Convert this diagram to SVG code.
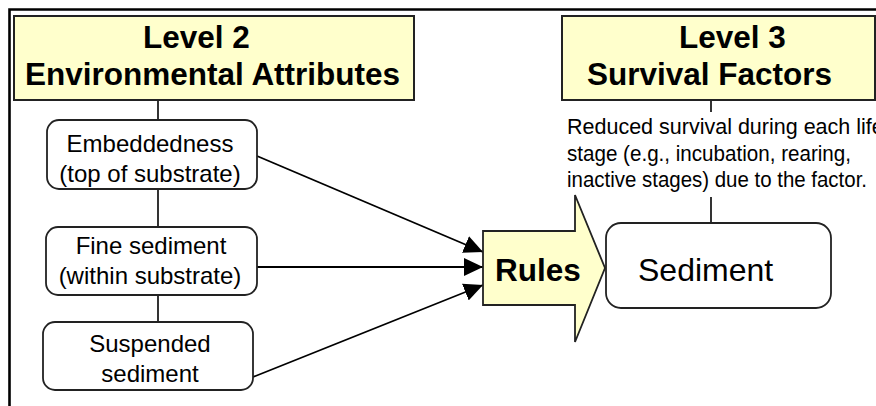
<svg xmlns="http://www.w3.org/2000/svg" width="876" height="406" viewBox="0 0 876 406">
  <style>
    .title { fill: #FFFFCC; stroke: #222; stroke-width: 2; }
    .node { fill: #FFFFFF; stroke: #222; stroke-width: 1.8; }
    .t { font-family: "Liberation Sans", Arial, sans-serif; fill: #000; }
    .hb { font-size: 31.5px; font-weight: bold; }
    .nt { font-size: 24px; text-anchor: middle; }
    .desc { font-size: 21.5px; }
    .link { stroke: #000; stroke-width: 1.6; fill: none; }
    .arrow { stroke: #000; stroke-width: 1.8; fill: none; marker-end: url(#head); }
  </style>
  <defs>
    <marker id="head" markerUnits="userSpaceOnUse" markerWidth="20" markerHeight="18" viewBox="0 0 20 18" refX="19" refY="9" orient="auto">
      <path d="M0,0 L19,9 L0,18 Z" fill="#000"/>
    </marker>
  </defs>

  <rect width="876" height="406" fill="#FFFFFF"/>

  <!-- outer frame (open to the right and bottom) -->
  <path d="M9.5,406 V9.5 H876" fill="none" stroke="#000" stroke-width="2.6"/>

  <!-- connectors -->
  <g id="connectors">
    <line class="link" x1="158" y1="100" x2="158" y2="120"/>
    <line class="link" x1="158" y1="189" x2="158" y2="227"/>
    <line class="link" x1="158" y1="295" x2="158" y2="322"/>
    <line class="link" x1="711" y1="100" x2="711" y2="112"/>
    <line class="link" x1="711" y1="197" x2="711" y2="223"/>
    <line class="arrow" x1="257" y1="156" x2="483" y2="252"/>
    <line class="arrow" x1="257" y1="267" x2="483" y2="267"/>
    <line class="arrow" x1="253" y1="377" x2="483" y2="285"/>
  </g>

  <g id="level2">
    <rect class="title" x="14" y="16" width="400" height="84"/>
    <text class="t hb" x="143" y="48">Level 2</text>
    <text class="t hb" x="25" y="85">Environmental Attributes</text>
  </g>

  <g id="level3">
    <rect class="title" x="562" y="16" width="313" height="84"/>
    <text class="t hb" x="679" y="48">Level 3</text>
    <text class="t hb" x="587" y="85">Survival Factors</text>
  </g>

  <g id="level3-note">
    <text class="t desc" x="567" y="134">Reduced survival during each life</text>
    <text class="t desc" x="567" y="160.5" textLength="284" lengthAdjust="spacingAndGlyphs">stage (e.g., incubation, rearing,</text>
    <text class="t desc" x="567" y="187" textLength="300" lengthAdjust="spacingAndGlyphs">inactive stages) due to the factor.</text>
  </g>

  <g id="embeddedness">
    <rect class="node" x="47" y="120" width="210" height="69" rx="12"/>
    <text class="t nt" x="150" y="152">Embeddedness</text>
    <text class="t nt" x="150" y="182">(top of substrate)</text>
  </g>

  <g id="fine-sediment">
    <rect class="node" x="46" y="227" width="211" height="68" rx="12"/>
    <text class="t nt" x="151" y="254">Fine sediment</text>
    <text class="t nt" x="150" y="284">(within substrate)</text>
  </g>

  <g id="suspended-sediment">
    <rect class="node" x="43" y="322" width="210" height="68" rx="12"/>
    <text class="t nt" x="150" y="352">Suspended</text>
    <text class="t nt" x="150" y="382">sediment</text>
  </g>

  <g id="rules">
    <path d="M483,231 H575 V195 L605,268 L575,342 V305 H483 Z" fill="#FFFFCC" stroke="#222" stroke-width="1.8" stroke-linejoin="miter"/>
    <text class="t hb" x="495" y="281">Rules</text>
  </g>

  <g id="sediment">
    <rect class="node" x="606" y="223" width="225" height="85" rx="15"/>
    <text class="t" x="638" y="281" font-size="32">Sediment</text>
  </g>
</svg>
